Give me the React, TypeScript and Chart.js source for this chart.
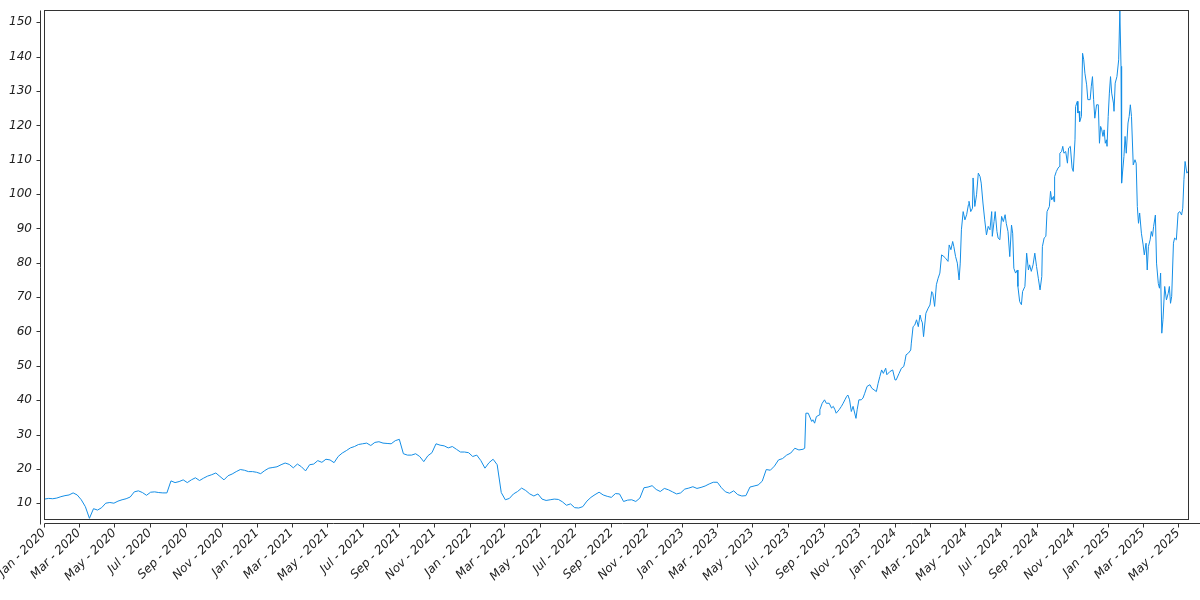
import React, { useEffect, useRef } from "react";
import { Chart, registerables } from "chart.js";

Chart.register(...registerables);

// Weekly closes, first point 2020-01-02, one point every 7 days
const startDate = "2020-01-02";
const weeklyValues: number[] = [
  11.2, 11.4, 11.3, 11.5, 11.9, 12.2, 12.4, 13.0, 12.4, 11.0,
  9.0, 5.6, 8.4, 8.0, 8.7, 10.0, 10.2, 10.0, 10.6, 11.0,
  11.3, 11.8, 13.3, 13.6, 13.1, 12.3, 13.2, 13.3, 13.1, 13.0,
  13.0, 16.5, 16.0, 16.3, 16.8, 16.0, 16.8, 17.4, 16.6, 17.3,
  17.9, 18.3, 18.8, 17.8, 16.8, 18.0, 18.5, 19.2, 19.8, 19.6,
  19.2, 19.2, 19.0, 18.6, 19.5, 20.2, 20.4, 20.6, 21.2, 21.7,
  21.3, 20.3, 21.4, 20.6, 19.4, 21.2, 21.4, 22.4, 21.9, 22.8,
  22.6, 21.8, 23.6, 24.6, 25.3, 26.1, 26.5, 27.1, 27.3, 27.5,
  26.8, 27.7, 27.9, 27.5, 27.4, 27.3, 28.2, 28.6, 24.4, 24.0,
  24.0, 24.4, 23.6, 22.1, 23.8, 24.7, 27.3, 26.9, 26.7, 26.1,
  26.5, 25.7, 24.9, 24.9, 24.7, 23.6, 24.0, 22.4, 20.2, 21.8,
  22.8, 21.2, 13.1, 11.0, 11.4, 12.7, 13.4, 14.4, 13.7, 12.7,
  12.1, 12.7, 11.2, 10.8, 11.0, 11.2, 11.1, 10.4, 9.4, 9.8,
  8.7, 8.6, 9.0, 10.6, 11.7, 12.5, 13.2, 12.4, 12.0, 11.7,
  12.8, 12.7, 10.5, 10.9, 11.0, 10.5, 11.5, 14.5, 14.7, 15.1,
  14.0, 13.4, 14.3, 13.9, 13.3, 12.7, 13.0, 14.1, 14.4, 14.8,
  14.3, 14.6, 15.0, 15.6, 16.1, 16.1, 14.5, 13.3, 12.9, 13.6,
  12.5, 12.1, 12.2, 14.7, 15.0, 15.3, 16.4, 19.8, 19.6, 20.8,
  22.6, 23.0, 24.0, 24.6, 26.0, 25.5, 25.7,
];

// From mid-2023 on, denser readings: day offsets since 2020-01-01 and values
const laterDays: number[] = [
  1306, 1308, 1312, 1318, 1320, 1323, 1326, 1331, 1332, 1336, 1340, 1343, 1348, 1352, 1355, 1358,
  1360, 1365, 1369, 1372, 1375, 1378, 1380, 1383, 1386, 1389, 1394, 1396, 1399, 1403, 1406, 1409,
  1413, 1418, 1421, 1425, 1429, 1432, 1435, 1438, 1441, 1445, 1447, 1452, 1457, 1461, 1463, 1468,
  1472, 1476, 1478, 1480, 1484, 1488, 1489, 1492, 1495, 1498, 1501, 1504, 1506, 1508, 1510, 1514,
  1518, 1521, 1524, 1526, 1529, 1532, 1535, 1538, 1541, 1545, 1548, 1552, 1554, 1557, 1560, 1562,
  1565, 1568, 1571, 1573, 1575, 1578, 1581, 1584, 1587, 1588, 1591, 1594, 1595, 1598, 1601, 1604,
  1607, 1609, 1612, 1615, 1618, 1621, 1624, 1627, 1628, 1631, 1633, 1636, 1638, 1641, 1644, 1647,
  1650, 1652, 1655, 1658, 1661, 1663, 1665, 1668, 1671, 1672, 1675, 1678, 1680, 1684, 1687, 1690,
  1692, 1695, 1698, 1701, 1704, 1707, 1710, 1713, 1714, 1717, 1720, 1722, 1726, 1728, 1730, 1733,
  1734, 1735, 1738, 1741, 1743, 1744, 1747, 1749, 1751, 1754, 1757, 1759, 1762, 1765, 1767, 1770,
  1771, 1774, 1775, 1777, 1778, 1781, 1783, 1785, 1787, 1790, 1792, 1796, 1798, 1800, 1802, 1804,
  1807, 1810, 1812, 1814, 1816, 1818, 1820, 1822, 1824, 1825, 1827, 1829, 1831, 1833, 1836, 1837,
  1839, 1842, 1845, 1847, 1849, 1850, 1854, 1856, 1858, 1861, 1863, 1865, 1867, 1870, 1873, 1875,
  1877, 1879, 1881, 1884, 1887, 1889, 1892, 1894, 1896, 1899, 1901, 1903, 1905, 1908, 1910, 1913,
  1915, 1917, 1919, 1921, 1924, 1927, 1930, 1932, 1934, 1936, 1939, 1941, 1944, 1947, 1950, 1953,
  1955, 1957, 1959, 1962, 1964,
];
const laterValues: number[] = [
  26.0, 36.2, 36.2, 33.8, 34.3, 33.3, 35.2, 35.7, 37.2, 39.1, 40.1, 39.1, 39.1, 37.7, 38.2, 37.2,
  36.2, 37.2, 38.2, 39.1, 40.1, 41.1, 41.5, 40.1, 36.7, 38.2, 34.7, 37.2, 40.1, 40.1, 40.6, 42.0,
  44.0, 44.5, 43.5, 43.0, 42.5, 44.9, 46.9, 48.8, 47.8, 49.3, 47.4, 48.3, 48.8, 45.9, 45.9, 47.8,
  49.3, 49.8, 51.3, 53.2, 53.7, 54.6, 56.6, 61.4, 61.9, 63.4, 61.4, 64.8, 63.4, 62.5, 58.5, 65.3,
  66.8, 67.7, 71.6, 71.0, 67.3, 73.6, 75.5, 77.0, 82.3, 81.8, 81.3, 80.4, 85.2, 83.8, 86.2, 84.7,
  81.8, 79.9, 75.0, 79.9, 89.6, 94.9, 92.5, 94.0, 96.9, 97.9, 94.9, 95.9, 104.7, 96.4, 99.8, 106.1,
  105.1, 103.2, 97.4, 92.5, 88.1, 90.6, 89.6, 94.9, 87.7, 92.0, 94.9, 89.1, 87.2, 86.7, 93.5, 92.0,
  94.0, 91.5, 89.1, 81.8, 91.0, 88.6, 78.4, 77.0, 77.9, 73.1, 68.7, 67.8, 71.6, 73.1, 82.8, 77.9,
  79.4, 77.5, 79.4, 82.8, 78.9, 75.5, 72.1, 76.0, 84.7, 87.2, 87.7, 94.9, 96.4, 100.8, 98.3, 99.3,
  97.8, 105.1, 106.6, 107.6, 108.0, 111.9, 112.4, 113.9, 111.9, 112.4, 109.0, 113.4, 113.9, 107.6, 106.6, 115.8,
  125.5, 127.0, 123.6, 124.1, 121.1, 122.6, 141.0, 139.1, 135.2, 131.8, 127.5, 127.5, 131.4, 134.2, 127.5, 122.1,
  126.0, 126.0, 114.8, 119.7, 118.7, 116.8, 118.7, 114.8, 115.8, 113.9, 122.6, 129.4, 134.2, 129.4, 126.5, 124.1,
  132.3, 134.2, 139.1, 153.6, 137.2, 103.2, 110.9, 116.8, 111.9, 120.7, 122.6, 126.0, 122.6, 108.5, 110.0, 109.0,
  96.4, 91.5, 94.5, 88.6, 85.2, 82.3, 85.7, 77.9, 84.7, 86.7, 89.1, 87.7, 90.6, 93.9, 79.9, 74.0,
  72.6, 77.0, 59.5, 63.4, 73.1, 69.2, 71.1, 73.1, 68.2, 70.2, 85.7, 87.2, 86.7, 94.5, 94.9, 93.9,
  95.9, 104.2, 109.5, 106.1, 106.6,
];

const yTicks: number[] = [10, 20, 30, 40, 50, 60, 70, 80, 90, 100, 110, 120, 130, 140, 150];
const monthNames: string[] = ["Jan", "Feb", "Mar", "Apr", "May", "Jun", "Jul", "Aug", "Sep", "Oct", "Nov", "Dec"];
const xTickMonths: string[] = [
  "2020-01", "2020-03", "2020-05", "2020-07", "2020-09", "2020-11",
  "2021-01", "2021-03", "2021-05", "2021-07", "2021-09", "2021-11",
  "2022-01", "2022-03", "2022-05", "2022-07", "2022-09", "2022-11",
  "2023-01", "2023-03", "2023-05", "2023-07", "2023-09", "2023-11",
  "2024-01", "2024-03", "2024-05", "2024-07", "2024-09", "2024-11",
  "2025-01", "2025-03", "2025-05",
];

const origin = Date.UTC(2020, 0, 1);
const DAY = 86400000;
const dayOf = (s: string) => {
  const [y, m, d] = s.split("-").map(Number);
  return Math.round((Date.UTC(y, m - 1, d || 1) - origin) / DAY);
};

const startDay = dayOf(startDate);
const points = [
  ...weeklyValues.map((v, i) => ({ x: startDay + 7 * i, y: v })),
  ...laterDays.map((d, i) => ({ x: d, y: laterValues[i] })),
].sort((a, b) => a.x - b.x);

const xTickDays = xTickMonths.map((m) => dayOf(m));
const xTickLabels = xTickMonths.map((m) => {
  const [y, mo] = m.split("-").map(Number);
  return `${monthNames[mo - 1]} - ${y}`;
});

const AXIS_COLOR = "#333333";
const TEXT_COLOR = "#222222";
const FONT = { family: "'DejaVu Sans', sans-serif", size: 12, style: "italic" as const };

const offsetAxes = {
  id: "offsetAxes",
  afterDraw(chart: any) {
    const { ctx, chartArea: a, scales } = chart;
    ctx.save();
    ctx.strokeStyle = AXIS_COLOR;
    ctx.lineWidth = 1;
    const L = Math.round(a.left) + 0.5;
    const T = Math.round(a.top) + 0.5;
    const R = Math.round(a.right) + 0.5;
    const B = Math.round(a.bottom) + 0.5;
    ctx.strokeRect(L, T, R - L, B - T);
    const yx = L - 4;
    ctx.beginPath();
    ctx.moveTo(yx, T);
    ctx.lineTo(yx, B + 5);
    for (const t of scales.y.ticks) {
      const py = Math.round(scales.y.getPixelForValue(t.value)) + 0.5;
      ctx.moveTo(yx - 4, py);
      ctx.lineTo(yx, py);
    }
    const xy = B + 4;
    ctx.moveTo(L, xy);
    ctx.lineTo(chart.width, xy);
    for (const t of scales.x.ticks) {
      const px = Math.round(scales.x.getPixelForValue(t.value)) + 0.5;
      ctx.moveTo(px, xy);
      ctx.lineTo(px, xy + 4);
    }
    ctx.stroke();
    ctx.restore();
  },
};

export default function App() {
  const ref = useRef<HTMLCanvasElement>(null);
  useEffect(() => {
    const chart = new Chart(ref.current as HTMLCanvasElement, {
      type: "line",
      data: {
        datasets: [
          {
            data: points,
            borderColor: "#148ee6",
            borderWidth: 1,
            pointRadius: 0,
            tension: 0,
            fill: false,
          },
        ],
      },
      options: {
        animation: false,
        responsive: true,
        maintainAspectRatio: false,
        parsing: false,
        layout: { padding: { top: 10, right: 12, left: 0, bottom: 0 } },
        plugins: { legend: { display: false }, tooltip: { enabled: false } },
        scales: {
          x: {
            type: "linear",
            min: 0,
            max: 1964,
            grid: { display: false, drawTicks: false },
            border: { display: false },
            afterBuildTicks: (scale: any) => {
              scale.ticks = xTickDays.map((v) => ({ value: v }));
            },
            afterFit: (scale: any) => {
              scale.height = 81;
              scale.paddingLeft = 0;
              scale.paddingRight = 0;
            },
            ticks: {
              autoSkip: false,
              minRotation: 45,
              maxRotation: 45,
              padding: 7,
              color: TEXT_COLOR,
              font: FONT,
              callback: (value: any) => {
                const idx = xTickDays.indexOf(Number(value));
                return idx >= 0 ? xTickLabels[idx] : "";
              },
            },
          },
          y: {
            type: "linear",
            min: 5.4,
            max: 153.6,
            grid: { display: false, drawTicks: false },
            border: { display: false },
            afterBuildTicks: (scale: any) => {
              scale.ticks = yTicks.map((v) => ({ value: v }));
            },
            afterFit: (scale: any) => {
              scale.width = 44;
              scale.paddingTop = 0;
              scale.paddingBottom = 0;
            },
            ticks: {
              padding: 12,
              color: TEXT_COLOR,
              font: FONT,
              callback: (value: any) => String(value),
            },
          },
        },
      },
      plugins: [offsetAxes],
    });
    return () => chart.destroy();
  }, []);
  return (
    <div style={{ position: "fixed", left: 0, top: 0, width: 1200, height: 600, background: "#fff" }}>
      <canvas ref={ref} />
    </div>
  );
}
